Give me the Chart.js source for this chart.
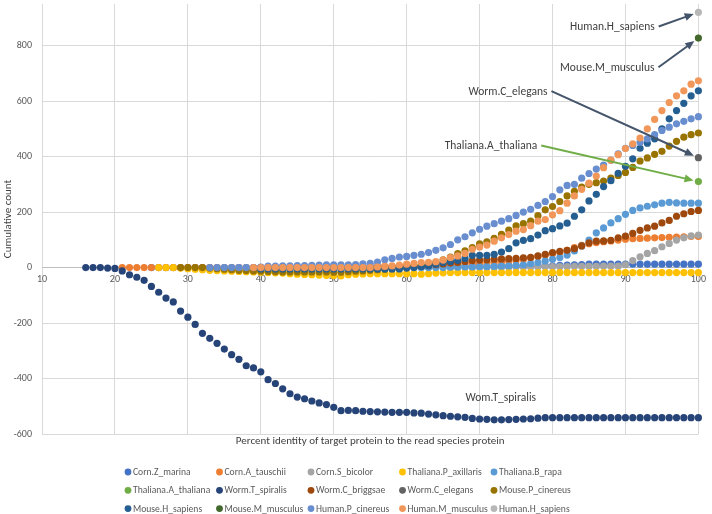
<!DOCTYPE html>
<html>
<head>
<meta charset="utf-8">
<script src="https://cdn.jsdelivr.net/npm/chart.js@4.4.0/dist/chart.umd.min.js"></script>
<style>
  html, body { margin: 0; padding: 0; background: #fff; }
  #wrap { width: 712px; height: 514px; position: relative; }
</style>
</head>
<body>
<div id="wrap"><canvas id="chart"></canvas></div>
<script>
// percent identity (x) -> cumulative count (y); each series starts at its own x
const seriesNames = [
  'Corn.Z_marina', 'Corn.A_tauschii', 'Corn.S_bicolor', 'Thaliana.P_axillaris', 'Thaliana.B_rapa',
  'Thaliana.A_thaliana', 'Worm.T_spiralis', 'Worm.C_briggsae', 'Worm.C_elegans', 'Mouse.P_cinereus',
  'Mouse.H_sapiens', 'Mouse.M_musculus', 'Human.P_cinereus', 'Human.M_musculus', 'Human.H_sapiens'
];
const seriesColors = [
  '#4472C4', '#ED7D31', '#A5A5A5', '#FFC000', '#5B9BD5',
  '#70AD47', '#264478', '#9E480E', '#636363', '#997300',
  '#255E91', '#43682B', '#698ED0', '#F1975A', '#B7B7B7'
];
const seriesStart = [25, 21, 35, 26, 40, 100, 16, 40, 100, 29, 40, 100, 33, 39, 100];

const cornZMarina = [
  0, 0, 0, 0, 0, 0,
  0, 0, 0, 0, 0, 0, 0, 0, 0, 0,
  0, 0, 0, 1, 1, 1, 1, 1, 1, 1,
  1, 1, 1, 1, 1, 2, 2, 2, 2, 2,
  2, 2, 2, 2, 3, 3, 3, 3, 3, 4,
  4, 4, 4, 4, 5, 5, 5, 5, 6, 6,
  8, 9, 10, 11, 12, 12, 12, 12, 12, 12,
  12, 12, 12, 12, 12, 12, 12, 12, 12, 12
];
const cornATauschii = [
  0, 0, 0, 0, 0, 0, 0, 0, 0, 0,
  0, 0, 0, 0, 0, 0, 0, 0, 0, 0,
  1, 1, 1, 1, 1, 2, 2, 2, 2, 2,
  2, 2, 2, 3, 3, 3, 4, 4, 4, 5,
  6, 7, 8, 9, 10, 11, 12, 13, 14, 15,
  17, 19, 21, 23, 25, 29, 34, 40, 45, 50,
  55, 62, 72, 80, 86, 90, 93, 96, 99, 102,
  104, 105, 106, 107, 108, 109, 110, 111, 112, 112
];
const cornSBicolor = [
  0, 0, 0, 0, 0, 0,
  0, 0, 0, 0, 0, 0, 0, 0, 0, 0,
  0, 0, 0, 0, 0, 0, 0, 0, 0, 0,
  0, 0, 0, 0, 1, 1, 1, 1, 1, 1,
  1, 1, 2, 2, 2, 2, 2, 3, 3, 3,
  3, 3, 4, 4, 4, 4, 5, 5, 5, 10,
  25, 39, 51, 61, 75, 87, 99, 107, 114, 117
];
const thalianaPAxillaris = [
  0, 0, 0, -2, -4,
  -6, -8, -10, -11, -12, -13, -14, -15, -16, -17,
  -18, -19, -20, -22, -24, -25, -26, -27, -28, -29,
  -30, -26, -24, -23, -22, -22, -22, -22, -22, -22,
  -22, -24, -22, -20, -19, -18, -18, -18, -18, -18,
  -18, -18, -18, -18, -18, -18, -18, -18, -18, -18,
  -18, -18, -18, -18, -18, -18, -18, -18, -18, -18,
  -18, -18, -18, -18, -18, -18, -18, -18, -18, -18
];
const thalianaBRapa = [
  0,
  0, 0, 0, 0, 0, 0, 0, 0, 0, 0,
  0, 0, 0, 0, 0, 0, 0, 0, 0, 0,
  0, 0, 0, 0, 0, 1, 1, 2, 2, 3,
  3, 4, 5, 6, 8, 10, 14, 18, 24, 30,
  36, 45, 60, 78, 99, 125, 143, 161, 176, 192,
  206, 215, 221, 226, 232, 235, 233, 232, 232, 232
];
const thalianaAThaliana = [310];
const wormTSpiralis = [
  0, 0, 0, -2, -3,
  -12, -26, -35, -46, -68, -89, -110, -124, -157, -179,
  -205, -237, -255, -273, -294, -314, -331, -354, -362, -376,
  -404, -418, -437, -455, -467, -473, -481, -488, -494, -504,
  -516, -515, -516, -518, -519, -520, -521, -522, -522, -522,
  -524, -525, -528, -531, -534, -536, -538, -540, -544, -546,
  -547, -549, -549, -548, -547, -546, -545, -543, -541, -541,
  -541, -541, -541, -541, -541, -541, -541, -541, -541, -541,
  -541, -541, -541, -541, -541, -541, -541, -541, -541, -541
];
const wormCBriggsae = [
  0,
  0, 0, 0, 0, 0, 0, 0, 0, 0, 0,
  0, 0, 0, 0, 0, 1, 2, 2, 3, 3,
  4, 6, 8, 10, 13, 16, 18, 22, 25, 27,
  28, 30, 31, 32, 33, 35, 37, 42, 48, 54,
  58, 62, 68, 78, 89, 95, 96, 98, 107, 113,
  123, 134, 143, 149, 161, 170, 185, 194, 202, 206
];
const wormCElegans = [396];
const mousePCinereus = [
  0, 0,
  0, 0, -2, -4, -6, -8, -10, -11, -12, -13,
  -14, -15, -16, -16, -16, -16, -16, -16, -16, -17,
  -17, -15, -13, -12, -10, -8, -6, -4, -2, 0,
  3, 6, 10, 18, 28, 38, 50, 60, 72, 85,
  93, 105, 120, 135, 150, 158, 167, 187, 208, 220,
  238, 258, 275, 290, 300, 306, 312, 322, 332, 343,
  361, 384, 395, 408, 419, 438, 455, 470, 479, 485
];
const mouseHSapiens = [
  -5,
  -5, -5, -5, -5, -5, -5, -5, -5, -5, -5,
  -5, -5, -5, -5, -5, -5, -5, -5, -5, -2,
  0, 3, 6, 12, 18, 22, 26, 33, 44, 44,
  44, 48, 56, 68, 89, 98, 104, 117, 133, 140,
  150, 160, 185, 208, 240, 264, 292, 313, 340, 365,
  392, 430, 448, 464, 500, 536, 566, 592, 619, 637
];
const mouseMMusculus = [827];
const humanPCinereus = [
  0, 0, 0, 0, 0, 0, 0, 2,
  5, 5, 6, 6, 7, 7, 8, 9, 10, 10,
  10, 10, 11, 13, 15, 20, 28, 33, 38, 40,
  44, 48, 54, 62, 71, 83, 100, 111, 125, 138,
  149, 158, 167, 176, 188, 200, 210, 224, 238, 256,
  280, 296, 300, 322, 339, 355, 369, 387, 410, 430,
  440, 452, 464, 479, 494, 506, 518, 527, 536, 544
];
const humanMMusculus = [
  0, 0,
  0, 0, 0, 0, 0, 0, 0, 0, 0, 0,
  0, 0, 0, 0, 0, 2, 4, 6, 9, 12,
  15, 18, 19, 21, 27, 36, 42, 51, 66, 74,
  81, 95, 107, 119, 131, 137, 151, 167, 173, 190,
  205, 232, 258, 282, 304, 330, 360, 387, 407, 429,
  446, 467, 500, 534, 566, 595, 619, 637, 661, 673
];
const humanHSapiens = [920];

const seriesValues = [
  cornZMarina, cornATauschii, cornSBicolor, thalianaPAxillaris, thalianaBRapa,
  thalianaAThaliana, wormTSpiralis, wormCBriggsae, wormCElegans, mousePCinereus,
  mouseHSapiens, mouseMMusculus, humanPCinereus, humanMMusculus, humanHSapiens
];

const yTicks = [-600, -400, -200, 0, 200, 400, 600, 800];

// callouts: text anchor in data units, series the arrow points to (-1 = no arrow)
const noteText = ['Human.H_sapiens', 'Mouse.M_musculus', 'Worm.C_elegans', 'Thaliana.A_thaliana', 'Wom.T_spiralis'];
const noteX = [88.2, 87.5, 79.3, 77.9, 72.9];
const noteY = [867, 720, 634, 438, -469];
const noteAlign = ['center', 'center', 'right', 'right', 'center'];
const noteTarget = [14, 11, 8, 5, -1];
const noteColor = ['#44546A', '#44546A', '#44546A', '#70AD47', null];

const FONT = "Carlito, 'Liberation Sans', Arial, sans-serif";

const datasets = seriesNames.map((name, i) => ({
  label: name,
  data: seriesValues[i].map((v, k) => ({ x: seriesStart[i] + k, y: v })),
  backgroundColor: seriesColors[i],
  borderColor: seriesColors[i],
  pointRadius: 3.6,
  pointBorderWidth: 0,
  showLine: false,
  clip: false,
  order: -i
}));

// ========== callout arrows ==========
const calloutPlugin = {
  id: 'callouts',
  afterDatasetsDraw(chart) {
    const ctx = chart.ctx;
    const xs = chart.scales.x, ys = chart.scales.y;
    ctx.save();
    ctx.font = '11.5px ' + FONT;
    ctx.textBaseline = 'middle';
    noteText.forEach((t, i) => {
      const ax = xs.getPixelForValue(noteX[i]);
      const ay = ys.getPixelForValue(noteY[i]);
      ctx.fillStyle = '#404040';
      ctx.textAlign = noteAlign[i];
      ctx.fillText(t, ax, ay);
      if (noteTarget[i] < 0) return;
      const w = ctx.measureText(t).width;
      const right = noteAlign[i] === 'center' ? ax + w / 2 : ax;
      const sx = right + 4, sy = ay - 0.5;
      const pts = chart.data.datasets[noteTarget[i]].data;
      const last = pts[pts.length - 1];
      const px = xs.getPixelForValue(last.x), py = ys.getPixelForValue(last.y);
      const ang = Math.atan2(py - sy, px - sx);
      const ex = px - Math.cos(ang) * 5, ey = py - Math.sin(ang) * 5;
      const hl = 9, hw = 4;
      ctx.strokeStyle = noteColor[i];
      ctx.fillStyle = noteColor[i];
      ctx.lineWidth = 2;
      ctx.beginPath();
      ctx.moveTo(sx, sy);
      ctx.lineTo(ex - Math.cos(ang) * (hl - 2), ey - Math.sin(ang) * (hl - 2));
      ctx.stroke();
      ctx.beginPath();
      ctx.moveTo(ex, ey);
      ctx.lineTo(ex - Math.cos(ang) * hl - Math.sin(ang) * hw, ey - Math.sin(ang) * hl + Math.cos(ang) * hw);
      ctx.lineTo(ex - Math.cos(ang) * hl + Math.sin(ang) * hw, ey - Math.sin(ang) * hl - Math.cos(ang) * hw);
      ctx.closePath();
      ctx.fill();
    });
    ctx.restore();
  }
};

// ========== legend in 5 columns ==========
const gridLegend = {
  id: 'gridLegend',
  afterDraw(chart) {
    const ctx = chart.ctx;
    const x0 = chart.width / 2 - 228;
    const colW = 91.5;
    const y0 = chart.chartArea.bottom + 38;
    const rowH = 18.3;
    ctx.save();
    ctx.font = '9.6px ' + FONT;
    ctx.textBaseline = 'middle';
    ctx.textAlign = 'left';
    chart.data.datasets.forEach((ds, i) => {
      const cx = x0 + (i % 5) * colW;
      const cy = y0 + Math.floor(i / 5) * rowH;
      ctx.fillStyle = ds.backgroundColor;
      ctx.beginPath();
      ctx.arc(cx, cy, 3.4, 0, Math.PI * 2);
      ctx.fill();
      ctx.fillStyle = '#595959';
      ctx.fillText(ds.label, cx + 5, cy + 0.5);
    });
    ctx.restore();
  }
};

new Chart(document.getElementById('chart'), {
  type: 'scatter',
  data: { datasets },
  options: {
    responsive: true,
    maintainAspectRatio: false,
    animation: false,
    events: [],
    layout: { padding: { top: 0, right: 11, bottom: 60, left: 0 } },
    plugins: {
      legend: { display: false },
      tooltip: { enabled: false }
    },
    scales: {
      x: {
        type: 'linear',
        position: { y: 0 },
        min: 10,
        max: 100,
        ticks: { stepSize: 10, color: '#595959', font: { size: 10, family: FONT }, padding: 6, maxRotation: 0 },
        grid: { color: '#d9d9d9', lineWidth: 1, drawTicks: false },
        border: { display: true, color: '#bfbfbf', width: 1 }
      },
      x2: {
        type: 'linear',
        position: 'bottom',
        min: 10,
        max: 100,
        ticks: { display: false },
        grid: { display: false, drawTicks: false },
        border: { display: false },
        title: {
          display: true,
          text: 'Percent identity of target protein to the read species protein',
          color: '#404040',
          font: { size: 11, family: FONT },
          padding: { top: 0, bottom: 6 }
        },
        afterFit(s) { s.height = 20; }
      },
      y: {
        type: 'linear',
        position: 'left',
        min: -600,
        max: 950,
        afterBuildTicks(s) { s.ticks = yTicks.map(v => ({ value: v })); },
        ticks: { color: '#595959', font: { size: 10, family: FONT }, padding: 10 },
        grid: { color: '#d9d9d9', lineWidth: 1, drawTicks: false },
        border: { display: false },
        title: {
          display: true,
          text: 'Cumulative count',
          color: '#404040',
          font: { size: 11, family: FONT },
          padding: { top: 2, bottom: 0 }
        },
        afterFit(s) { s.width = 42; s.paddingTop = 0; s.paddingBottom = 0; }
      }
    }
  },
  plugins: [calloutPlugin, gridLegend]
});
</script>
</body>
</html>
